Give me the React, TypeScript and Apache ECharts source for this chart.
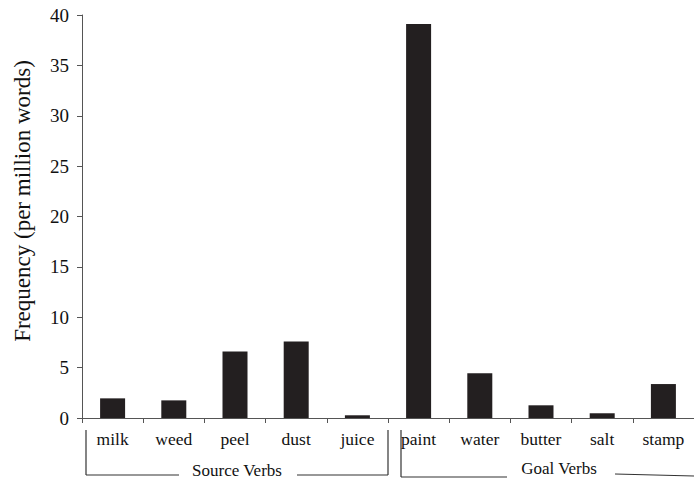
import React, { useEffect, useRef } from "react";
import * as echarts from "echarts";

const categories = ["milk", "weed", "peel", "dust", "juice", "paint", "water", "butter", "salt", "stamp"];
const frequencies = [1.95, 1.75, 6.6, 7.6, 0.27, 39.1, 4.43, 1.26, 0.47, 3.37];
const yTicks = { min: 0, max: 40, interval: 5 };
const groupLabels = ["Source Verbs", "Goal Verbs"];
const yTitle = "Frequency (per million words)";

const FONT = "Liberation Serif, Times New Roman, serif";
const AXIS_COLOR = "#555";

export default function App() {
  const ref = useRef<HTMLDivElement>(null);
  useEffect(() => {
    if (!ref.current) return;
    const chart = echarts.init(ref.current, undefined, { renderer: "svg" });
    const lineStyle = { stroke: "#333", lineWidth: 1.2 };
    chart.setOption({
      animation: false,
      grid: { left: 82, top: 15, bottom: 60, width: 622, containLabel: false },
      xAxis: {
        type: "category",
        data: categories,
        axisLine: { show: true, lineStyle: { color: AXIS_COLOR, width: 1 } },
        axisTick: { show: true, length: 5, lineStyle: { color: AXIS_COLOR } },
        axisLabel: { interval: 0, margin: 12, color: "#111", fontFamily: FONT, fontSize: 17.5 },
      },
      yAxis: {
        type: "value",
        min: yTicks.min,
        max: yTicks.max,
        interval: yTicks.interval,
        splitLine: { show: false },
        axisLine: { show: true, lineStyle: { color: AXIS_COLOR, width: 1 } },
        axisTick: { show: true, length: 5, lineStyle: { color: AXIS_COLOR } },
        axisLabel: { margin: 13, color: "#111", fontFamily: FONT, fontSize: 19 },
      },
      series: [
        {
          type: "bar",
          data: frequencies,
          barWidth: 25,
          itemStyle: { color: "#231f20" },
        },
      ],
      graphic: [
        {
          type: "text",
          x: 22,
          y: 201,
          rotation: Math.PI / 2,
          style: {
            text: yTitle,
            fontFamily: FONT,
            fontSize: 23,
            fill: "#111",
            textAlign: "center",
            textVerticalAlign: "middle",
          },
        },
        // Source Verbs bracket
        { type: "line", shape: { x1: 86, y1: 430, x2: 86, y2: 475 }, style: lineStyle },
        { type: "line", shape: { x1: 86, y1: 475, x2: 179, y2: 475 }, style: lineStyle },
        { type: "line", shape: { x1: 297, y1: 475, x2: 388, y2: 475 }, style: lineStyle },
        { type: "line", shape: { x1: 388, y1: 430, x2: 388, y2: 475 }, style: lineStyle },
        {
          type: "text",
          x: 237,
          y: 470,
          style: {
            text: groupLabels[0],
            fontFamily: FONT,
            fontSize: 17,
            fill: "#111",
            textAlign: "center",
            textVerticalAlign: "middle",
          },
        },
        // Goal Verbs bracket
        { type: "line", shape: { x1: 401, y1: 430, x2: 401, y2: 477 }, style: lineStyle },
        { type: "line", shape: { x1: 401, y1: 477, x2: 507, y2: 477 }, style: lineStyle },
        { type: "line", shape: { x1: 615, y1: 474, x2: 694, y2: 476 }, style: lineStyle },
        {
          type: "text",
          x: 559,
          y: 468,
          style: {
            text: groupLabels[1],
            fontFamily: FONT,
            fontSize: 17,
            fill: "#111",
            textAlign: "center",
            textVerticalAlign: "middle",
          },
        },
      ],
    });
    return () => chart.dispose();
  }, []);
  return <div ref={ref} style={{ width: 694, height: 478, position: "absolute", left: 0, top: 0 }} />;
}
